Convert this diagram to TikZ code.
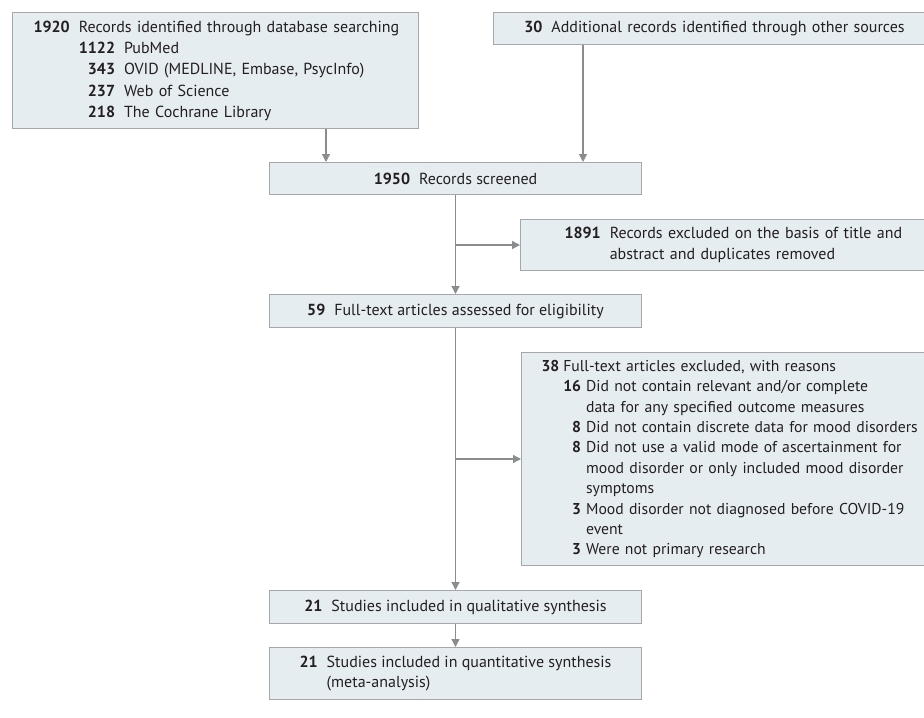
\documentclass[tikz,border=0pt]{standalone}
\usepackage{fontspec}
\setmainfont{PT Sans}
\usetikzlibrary{arrows.meta,calc}
\definecolor{BoxClr}{HTML}{E6EDF1}
\definecolor{EdgeClr}{HTML}{A5A7AA}
\definecolor{ArrowClr}{HTML}{8A8C8E}
\definecolor{TextClr}{HTML}{231F20}

\begin{document}
\begin{tikzpicture}[x=0.5pt,y=-0.5pt,
  box/.style={draw=EdgeClr,fill=BoxClr,line width=0.5pt,inner ysep=0pt,
    text=TextClr,font=\fontsize{8}{10.2}\selectfont},
  lbox/.style={box,anchor=north west,align=left},
  cbox/.style={box,anchor=north west,align=center,minimum width=186pt},
  arr/.style={draw=ArrowClr,line width=0.65pt,-{Triangle[length=4pt,width=4pt]}}]
\useasboundingbox (0,0) rectangle (924,717);

% sources
\node[lbox,inner xsep=10.5pt,text width=182pt,minimum height=58pt,
  font=\fontsize{8}{10.65}\selectfont] (db) at (12,12) {%
  \begin{tabular}{@{}r@{\hspace{4.5pt}}r@{\hspace{4.5pt}}l@{}}
  \textbf{1920} & \multicolumn{2}{@{}l@{}}{Records identified through database searching}\\
  & \textbf{1122} & PubMed\\
  & \textbf{343} & OVID (MEDLINE, Embase, PsycInfo)\\
  & \textbf{237} & Web of Science\\
  & \textbf{218} & The Cochrane Library
  \end{tabular}};
\node[box,anchor=north west,align=center,inner xsep=5pt,text width=211pt,minimum height=16pt] (other) at (493,12)
  {\textbf{30}\hspace{4.5pt}Additional records identified through other sources};

% screening
\node[cbox,minimum height=16pt] (screen) at (269,162) {\textbf{1950}\hspace{4.5pt}Records screened};
\node[lbox,inner xsep=22pt,text width=180pt,minimum height=25.5pt] (excl1) at (520,219) {%
  \begin{tabular}{@{}r@{\hspace{4.5pt}}l@{}}
  \textbf{1891} & Records excluded on the basis of title and\\
  & abstract and duplicates removed
  \end{tabular}};

% eligibility
\node[cbox,minimum height=16.5pt] (full) at (269,294) {\textbf{59}\hspace{4.5pt}Full-text articles assessed for eligibility};
\node[lbox,inner xsep=10pt,text width=200pt,minimum height=106.5pt,
  font=\fontsize{7.85}{10.2}\selectfont] (excl2) at (521,352) {%
  \begin{tabular}{@{}r@{\hspace{2pt}}r@{\hspace{2.5pt}}l@{}}
  \textbf{38} & \multicolumn{2}{@{}l@{}}{Full-text articles excluded, with reasons}\\
  & \textbf{16} & Did not contain relevant and/or complete\\
  & & data for any specified outcome measures\\
  & \textbf{8} & Did not contain discrete data for mood disorders\\
  & \textbf{8} & Did not use a valid mode of ascertainment for\\
  & & mood disorder or only included mood disorder\\
  & & symptoms\\
  & \textbf{3} & Mood disorder not diagnosed before COVID-19\\
  & & event\\
  & \textbf{3} & Were not primary research
  \end{tabular}};

% included
\node[cbox,minimum height=16.5pt] (qual) at (269,590) {\textbf{21}\hspace{4.5pt}Studies included in qualitative synthesis};
\node[cbox,minimum height=26pt] (quant) at (269,647) {%
  \begin{tabular}{@{}r@{\hspace{4.5pt}}l@{}}
  \textbf{21} & Studies included in quantitative synthesis\\
  & (meta-analysis)
  \end{tabular}};

\draw[arr] ([xshift=157pt]db.south west) -- ([xshift=157pt]db.south west |- screen.north);
\draw[arr] ([xshift=45pt]other.south west) -- ([xshift=45pt]other.south west |- screen.north);
\draw[arr] (screen) -- (full);
\draw[arr] (screen.south |- excl1.west) -- (excl1.west);
\draw[arr] (full) -- (qual);
\draw[arr] (full.south |- excl2.west) -- (excl2.west);
\draw[arr] (qual) -- (quant);

\end{tikzpicture}
\end{document}
